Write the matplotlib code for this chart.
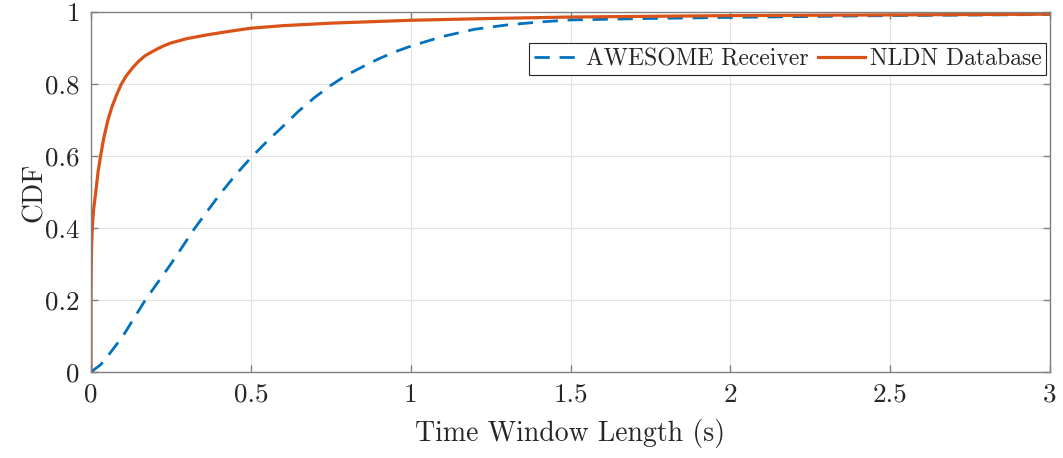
import matplotlib
matplotlib.use("Agg")
import matplotlib.pyplot as plt

# AWESOME receiver CDF
awe_t = [0, 0.03, 0.06, 0.1, 0.17, 0.25, 0.325, 0.4, 0.45, 0.5, 0.55, 0.6,
         0.65, 0.7, 0.75, 0.8, 0.85, 0.9, 0.95, 1.0, 1.1, 1.2, 1.3, 1.4, 1.5,
         1.75, 2.0, 2.5, 3.0]
awe_cdf = [0, 0.02, 0.053, 0.1, 0.2, 0.3, 0.4, 0.49, 0.545, 0.595, 0.64,
           0.682, 0.725, 0.763, 0.796, 0.825, 0.848, 0.87, 0.889, 0.905,
           0.932, 0.952, 0.964, 0.972, 0.978, 0.982, 0.985, 0.99, 0.993]

# NLDN database CDF
nldn_t = [0, 0, 0.001, 0.002, 0.004, 0.008, 0.015, 0.022, 0.03, 0.04, 0.053,
          0.065, 0.08, 0.095, 0.11, 0.13, 0.15, 0.17, 0.2, 0.225, 0.25, 0.3,
          0.36, 0.43, 0.5, 0.6, 0.75, 1.0, 1.25, 1.5, 2.0, 2.5, 3.0]
nldn_cdf = [0, 0.2, 0.3, 0.35, 0.4, 0.45, 0.5, 0.555, 0.6, 0.65, 0.7, 0.735,
            0.77, 0.8, 0.822, 0.845, 0.864, 0.879, 0.894, 0.905, 0.914,
            0.926, 0.936, 0.946, 0.955, 0.962, 0.969, 0.977, 0.982, 0.986,
            0.99, 0.992, 0.994]

x_ticks = [0, 0.5, 1, 1.5, 2, 2.5, 3]
x_labels = ["0", "0.5", "1", "1.5", "2", "2.5", "3"]
y_ticks = [0, 0.2, 0.4, 0.6, 0.8, 1]
y_labels = ["0", "0.2", "0.4", "0.6", "0.8", "1"]

plt.rcParams["font.family"] = ["cmr10", "DejaVu Serif"]
plt.rcParams["axes.unicode_minus"] = False

fig = plt.figure(figsize=(10.63, 4.58), dpi=100)
ax = fig.add_axes([0.0856, 0.1878, 0.9022, 0.786])

ax.plot(awe_t, awe_cdf, color="#0072BD", lw=2.0, dashes=(5.5, 3.5),
        label="AWESOME Receiver")
ax.plot(nldn_t, nldn_cdf, color="#D95319", lw=2.3, label="NLDN Database")

ax.set_xlim(0, 3)
ax.set_ylim(0, 1)
ax.set_xticks(x_ticks)
ax.set_xticklabels(x_labels)
ax.set_yticks(y_ticks)
ax.set_yticklabels(y_labels)

ax.grid(True, color="#e3e3e3", lw=0.8)
ax.set_axisbelow(True)
for s in ax.spines.values():
    s.set_color("#808080")
    s.set_linewidth(1.0)
ax.tick_params(direction="in", length=5, width=1, color="#808080",
               top=True, right=True, labelsize=19.5, labelcolor="#262626",
               pad=8)

ax.set_xlabel("Time Window Length (s)", fontsize=20, color="#262626", labelpad=9)
ax.set_ylabel("CDF", fontsize=20, color="#262626", labelpad=-2)

leg = ax.legend(loc="upper right", bbox_to_anchor=(0.996, 0.913), ncol=2,
                fontsize=17, frameon=True, fancybox=False, framealpha=1,
                edgecolor="#262626", handlelength=2.0, handletextpad=0.2,
                columnspacing=0.4, borderpad=0.2, borderaxespad=0)
leg.get_frame().set_linewidth(0.8)
for t in leg.get_texts():
    t.set_color("#262626")

fig.savefig("out.png", dpi=100)
